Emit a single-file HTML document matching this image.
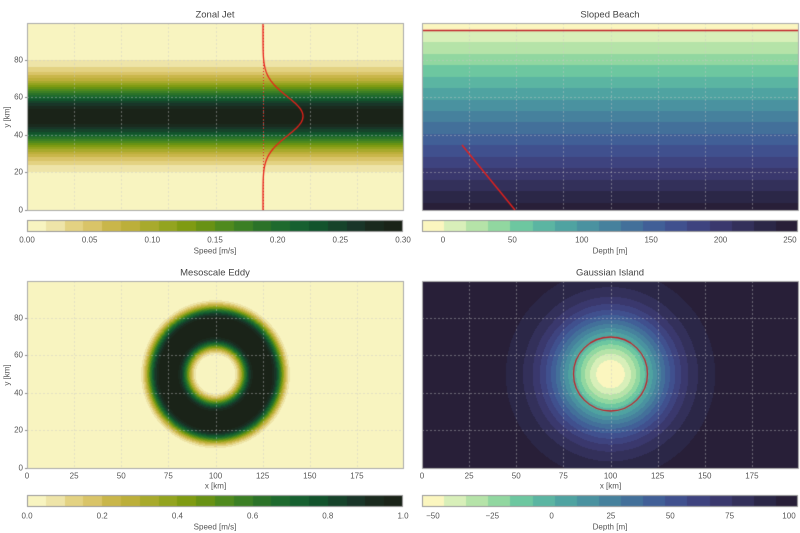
<!DOCTYPE html>
<html><head><meta charset="utf-8"><style>
html,body{margin:0;padding:0;background:#fff;}
#w{position:relative;width:800px;height:533px;overflow:hidden;font-family:"Liberation Sans",sans-serif;color:#555;}
canvas{position:absolute;left:0;top:0;}
.t{position:absolute;font-size:8px;white-space:nowrap;transform:translate(-50%,-50%);}
.h{position:absolute;font-size:9.5px;color:#444;white-space:nowrap;transform:translate(-50%,-50%);}
.r{position:absolute;font-size:8px;white-space:nowrap;transform:translate(-100%,-50%);}
</style></head><body><div id="w"><canvas id="c" width="800" height="533"></canvas></div>
<script>
const W=document.getElementById('w'),cv=document.getElementById('c'),ctx=cv.getContext('2d');
function txt(cls,x,y,s,rot){const d=document.createElement('div');d.className=cls;d.style.left=x+'px';d.style.top=y+'px';d.textContent=s;if(rot)d.style.transform='translate(-50%,-50%) rotate(-90deg)';W.appendChild(d);}
const SP=['#f8f4c0','#eee4a8','#e3d282','#d9c468','#c9b64a','#bcaf3a','#a8aa2c','#93a41f','#7f9b12','#689214','#4f8a1e','#3b7f24','#2b7228','#1e6a2e','#166030','#12532c','#16432a','#193528','#1a2a1e','#1a2318'];
const DP=['#fbf6bf','#d8efb9','#b5e3a8','#91d7a0','#6dc7a0','#5bb5a2','#4fa3a1','#4a92a0','#46819d','#43709a','#415f97','#40508e','#3e437f','#3a386d','#33305a','#2b2747','#281f38'];
function col(arr,t){t=Math.max(0,Math.min(0.9999,t));return arr[Math.floor(t*arr.length)];}
const AX=[[27,23],[422,23],[27,281],[422,281]],AW=377,AH=187;
function px(i,xk,yk){return [AX[i][0]+xk/200*AW,AX[i][1]+AH-yk/99.7*AH];}
function field(i,f){const [x0,y0]=AX[i];for(let yy=0;yy<AH;yy++)for(let xx=0;xx<AW;xx++){const xk=(xx+0.5)/AW*200,yk=(AH-yy-0.5)/AH*99.7;ctx.fillStyle=f(xk,yk);ctx.fillRect(x0+xx,y0+yy,1,1);}}
// zonal jet
field(0,(x,y)=>col(SP,Math.exp(-((y-50)**2)/(2*12.2*12.2))));
// sloped beach
field(1,(x,y)=>{const d=250-250*y/96;return col(DP,(d+15)/271);});
// eddy
field(2,(x,y)=>{const r=Math.hypot(x-100,y-50);return col(SP,Math.exp(-Math.pow((r-25)/11,4)));});
// island
field(3,(x,y)=>{const r2=(x-100)**2+(y-50)**2;const d=100-155*Math.exp(-r2/(2*21.4*21.4));return col(DP,(d+55)/159);});
// grids
ctx.save();ctx.strokeStyle='rgba(200,200,200,0.55)';ctx.lineWidth=0.8;ctx.setLineDash([2,2]);
for(let i=0;i<4;i++){const [x0,y0]=AX[i];for(let xk=25;xk<200;xk+=25){const p=px(i,xk,0);ctx.beginPath();ctx.moveTo(Math.round(p[0])+.5,y0);ctx.lineTo(Math.round(p[0])+.5,y0+AH);ctx.stroke();}
for(let yk=20;yk<100;yk+=20){const p=px(i,0,yk);ctx.beginPath();ctx.moveTo(x0,Math.round(p[1])+.5);ctx.lineTo(x0+AW,Math.round(p[1])+.5);ctx.stroke();}}
ctx.restore();
// red overlays
ctx.strokeStyle='#e8201a';ctx.lineWidth=1.3;
ctx.beginPath();for(let yk=0;yk<=99.7;yk+=0.5){const x=263+40*Math.exp(-((yk-50)**2)/(2*10.5*10.5));const y=23+AH-yk/99.7*AH;if(yk==0)ctx.moveTo(x,y);else ctx.lineTo(x,y);}ctx.stroke();
ctx.save();ctx.setLineDash([1,2]);ctx.lineWidth=1;ctx.beginPath();ctx.moveTo(263.5,23);ctx.lineTo(263.5,210);ctx.stroke();ctx.restore();
ctx.beginPath();ctx.moveTo(462,145);ctx.lineTo(515,210);ctx.stroke();
ctx.strokeStyle='#c0202a';ctx.beginPath();ctx.moveTo(422,30.5);ctx.lineTo(799,30.5);ctx.stroke();
ctx.beginPath();ctx.arc(610.5,374,37,0,Math.PI*2);ctx.stroke();
// axes frames
ctx.strokeStyle='#aaa';ctx.lineWidth=1;
for(const [x0,y0] of AX)ctx.strokeRect(x0+.5,y0+.5,AW-1,AH);
// colorbars
function cbar(x0,y0,arr){const w=376,h=12;for(let i=0;i<w;i++){ctx.fillStyle=col(arr,(i+0.5)/w);ctx.fillRect(x0+i,y0,1,h);}ctx.strokeStyle='#999';ctx.strokeRect(x0+.5,y0+.5,w-1,h-1);}
cbar(27,220,SP);cbar(422,220,DP);cbar(27,495,SP);cbar(422,495,DP);
// titles
txt('h',215,15,'Zonal Jet');txt('h',610,15,'Sloped Beach');txt('h',215,273,'Mesoscale Eddy');txt('h',610,273,'Gaussian Island');
// y ticks
for(const y0 of [23,281]){for(let yk=0;yk<=80;yk+=20){const y=y0+AH-yk/99.7*AH;txt('r',23,y,String(yk));ctx.fillStyle='#888';ctx.fillRect(25,Math.round(y),2,1);}txt('t',7,y0+AH/2,'y [km]',true);}
// x ticks bottom
for(const x0 of [27,422]){for(let xk=0;xk<200;xk+=25){const x=x0+xk/200*AW;txt('t',x,476,String(xk));}txt('t',x0+AW/2,486,'x [km]');}
// colorbar ticks
function cticks(x0,lo,hi,vals,fmt,y,label){for(const v of vals){txt('t',x0+(v-lo)/(hi-lo)*376,y,fmt(v));}txt('t',x0+188,y+11,label);}
cticks(27,0,0.3,[0,0.05,0.1,0.15,0.2,0.25,0.3],v=>v.toFixed(2),240,'Speed [m/s]');
cticks(422,-15.1,255.8,[0,50,100,150,200,250],v=>String(v),240,'Depth [m]');
cticks(27,0,1,[0,0.2,0.4,0.6,0.8,1],v=>v.toFixed(1),516,'Speed [m/s]');
cticks(422,-54.6,103.8,[-50,-25,0,25,50,75,100],v=>v<0?'\u2212'+(-v):String(v),516,'Depth [m]');
</script></body></html>
